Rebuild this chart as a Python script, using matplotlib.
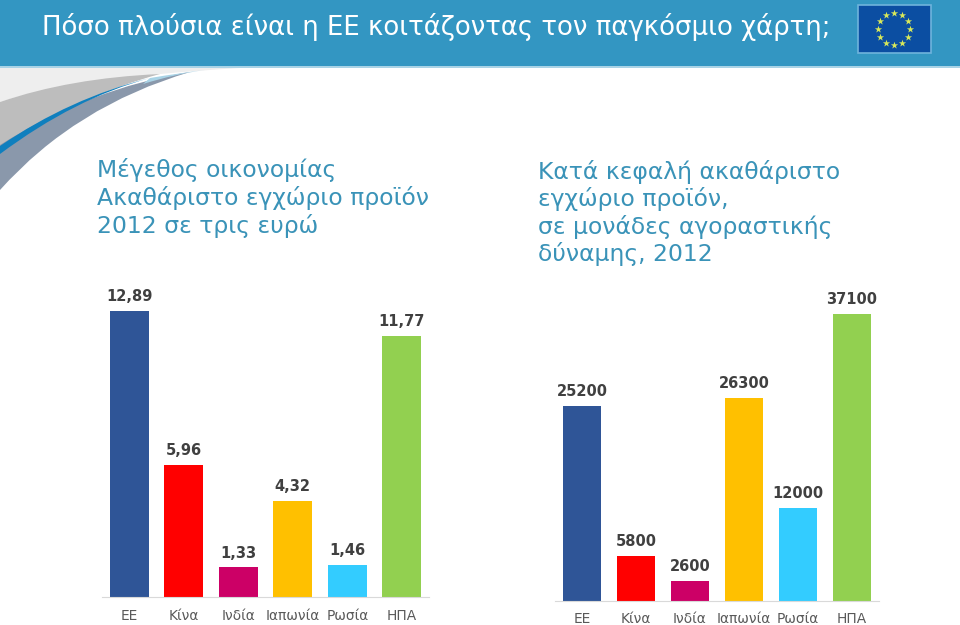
import numpy as np
import matplotlib
matplotlib.use("Agg")
import matplotlib.pyplot as plt
from matplotlib.path import Path
from matplotlib.patches import PathPatch, Rectangle

plt.rcParams["font.family"] = ["DejaVu Sans"]

countries = ["ΕΕ", "Κίνα", "Ινδία", "Ιαπωνία", "Ρωσία", "ΗΠΑ"]
gdp = [12.89, 5.96, 1.33, 4.32, 1.46, 11.77]
gdp_labels = ["12,89", "5,96", "1,33", "4,32", "1,46", "11,77"]
per_capita = [25200, 5800, 2600, 26300, 12000, 37100]
bar_colors = ["#2F5597", "#FF0000", "#CC0066", "#FFC000", "#33CCFF", "#92D050"]

title = "Πόσο πλούσια είναι η ΕΕ κοιτάζοντας τον παγκόσμιο χάρτη;"
left_heading = "Μέγεθος οικονομίας\nΑκαθάριστο εγχώριο προϊόν\n2012 σε τρις ευρώ"
right_heading = "Κατά κεφαλή ακαθάριστο\nεγχώριο προϊόν,\nσε μονάδες αγοραστικής\nδύναμης, 2012"

W, H = 960, 625
fig = plt.figure(figsize=(W / 100, H / 100), dpi=100)

# background layer in pixel coordinates
bg = fig.add_axes([0, 0, 1, 1])
bg.set_xlim(0, W)
bg.set_ylim(H, 0)
bg.axis("off")


def curve(points, color, z=1):
    codes = [Path.MOVETO] + [Path.CURVE3, Path.CURVE3] * ((len(points) - 1) // 2) + [Path.CLOSEPOLY]
    path = Path(points + [points[0]], codes)
    bg.add_patch(PathPatch(path, facecolor=color, edgecolor="none", zorder=z))


bg.add_patch(Rectangle((0, 0), W, 66, facecolor="#3396C2", edgecolor="none", zorder=3))
bg.add_patch(Rectangle((0, 66), W, 2, facecolor="#A9D3E6", edgecolor="none", zorder=3))

# swoosh under the header
curve([(0, 68), (240, 68), (240, 68), (70, 78), (0, 102)], "#EEEEEE", 1)
curve([(0, 102), (70, 78), (160, 74), (80, 95), (0, 150)], "#BDBDBD", 2)
curve([(0, 190), (75, 106), (190, 72), (90, 88), (0, 145)], "#8A98AB", 2)
curve([(0, 146), (70, 98), (150, 78), (75, 98), (0, 154)], "#0F7FBE", 3)
curve([(150, 78), (180, 73), (205, 70), (175, 74), (143, 84)], "#A9D3E6", 3)

# EU flag
bg.add_patch(Rectangle((858, 5), 73, 48, facecolor="#0B4EA2", edgecolor="#6FB3DC", linewidth=1.2, zorder=4))
angles = np.deg2rad(np.arange(0, 360, 30))
bg.scatter(894 + 16 * np.cos(angles), 29 + 16 * np.sin(angles), marker="*", s=30,
           color="#D8E85A", linewidths=0, zorder=5)

bg.text(42, 27, title, color="white", fontsize=18.75, va="center", ha="left", zorder=6)
bg.text(97, 198, left_heading, color="#3A93B8", fontsize=16.9, va="center", ha="left", linespacing=1.19)
bg.text(538, 213, right_heading, color="#3A93B8", fontsize=16.9, va="center", ha="left", linespacing=1.19)


def bar_panel(x0, x1, y_base, y_top, ymax, values, labels, tick_pad):
    ax = fig.add_axes([x0 / W, 1 - y_base / H, (x1 - x0) / W, (y_base - y_top) / H])
    ax.patch.set_alpha(0)
    pos = np.arange(len(values))
    bars = ax.bar(pos, values, width=0.715, color=bar_colors)
    ax.set_xlim(-0.5, len(values) - 0.5)
    ax.set_ylim(0, ymax)
    ax.set_yticks([])
    ax.set_xticks(pos, countries)
    ax.tick_params(axis="x", length=0, pad=tick_pad, labelsize=9.9, labelcolor="#595959")
    for side in ["top", "left", "right"]:
        ax.spines[side].set_visible(False)
    ax.spines["bottom"].set_color("#D9D9D9")
    ax.spines["bottom"].set_linewidth(0.8)
    for bar, label in zip(bars, labels):
        ax.annotate(label, (bar.get_x() + bar.get_width() / 2, bar.get_height()),
                    xytext=(0, 5), textcoords="offset points", ha="center", va="bottom",
                    fontsize=10.5, fontweight="bold", color="#404040")
    return ax


bar_panel(102, 429, 597, 280, 12.89 * 317 / 286, gdp, gdp_labels, 8.5)
bar_panel(555, 879, 601, 285, 37100 * 316 / 287, per_capita, [str(v) for v in per_capita], 8)

fig.savefig("out.png", dpi=100)
plt.close(fig)
